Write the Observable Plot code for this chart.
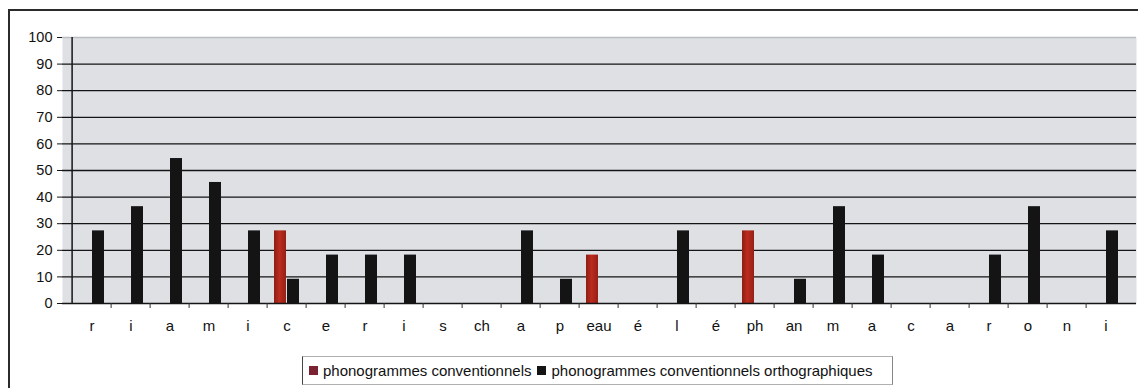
<!DOCTYPE html>
<html>
<head>
<meta charset="utf-8">
<script src="https://cdn.jsdelivr.net/npm/d3@7"></script>
<script src="https://cdn.jsdelivr.net/npm/@observablehq/plot@0.6"></script>
<style>
  html, body { margin: 0; padding: 0; background: #fff; overflow: hidden; }
  body { width: 1138px; height: 388px; position: relative; font-family: "Liberation Sans", Arial, sans-serif; }
  #frame { position: absolute; left: 8px; top: 9px; width: 1200px; height: 400px; border: 2px solid #2b2b2b; box-sizing: border-box; }
  #chart { position: absolute; left: 0; top: 0; }
  #legend {
    position: absolute; left: 302px; top: 356px; height: 29px; width: 591px; box-sizing: border-box;
    border: 1px solid #b0b0b0; border-left: 1.5px solid #444; border-right: 1.5px solid #888;
    display: flex; align-items: center; padding: 0 6px 0 6px;
    font-size: 15px; color: #111; white-space: nowrap; background: #fff;
  }
  .sw { display: inline-block; width: 9px; height: 9px; margin-right: 5px; }
</style>
</head>
<body>
<div id="frame"></div>
<div id="chart"></div>
<div id="legend"></div>
<script>
// Graphemes of the dictated word sequence, in order
const letters = ["r","i","a","m","i","c","e","r","i","s","ch","a","p","eau","é","l","é","ph","an","m","a","c","a","r","o","n","i"];
// Percentages per grapheme, for each series
const conventionnels = [0,0,0,0,0,27.3,0,0,0,0,0,0,0,18.2,0,0,0,27.3,0,0,0,0,0,0,0,0,0];
const orthographiques = [27.3,36.4,54.5,45.5,27.3,9.1,18.2,18.2,18.2,0,0,27.3,9.1,0,0,27.3,0,0,9.1,36.4,18.2,0,0,18.2,36.4,0,27.3];
const yTicks = [0,10,20,30,40,50,60,70,80,90,100];
const seriesNames = ["phonogrammes conventionnels", "phonogrammes conventionnels orthographiques"];
const seriesColors = ["#bb2c1e", "#141414"];

const idx = letters.map((_, i) => i);
const rowsA = idx.map(i => ({i, v: conventionnels[i]}));
const rowsB = idx.map(i => ({i, v: orthographiques[i]}));

const W = 1138, H = 340, ML = 62, MR = 2;
const step = (W - ML - MR) / letters.length;
const half = 13;
const pad = 1 - (2 * half) / step;

const chart = Plot.plot({
  width: W,
  height: H,
  marginLeft: ML,
  marginRight: MR,
  marginTop: 37,
  marginBottom: 37,
  style: { fontFamily: "'Liberation Sans', Arial, sans-serif", fontSize: "14px", color: "#111", background: "transparent" },
  x: { type: "band", domain: idx, paddingInner: pad, paddingOuter: pad / 2, align: 0.5 },
  y: { domain: [0, 100] },
  marks: [
    Plot.frame({ fill: "#dee0e4", stroke: null }),
    Plot.gridY(yTicks.filter(t => t > 0 && t < 100), { stroke: "#151515", strokeOpacity: 1, strokeWidth: 1.3 }),
    Plot.ruleY([100], { stroke: "#b9bcc0", strokeWidth: 1.5 }),
    Plot.barY(rowsA, { x: "i", y: "v", fill: "url(#redShade)", insetRight: half }),
    Plot.barY(rowsB, { x: "i", y: "v", fill: seriesColors[1], insetLeft: half }),
    Plot.ruleY([0], { stroke: "#151515", strokeWidth: 1.5 }),
    Plot.ruleX([0], { x: () => 0, dx: -step / 2, y1: 0, y2: 100, stroke: "#151515", strokeWidth: 1.5 }),
    Plot.axisY(yTicks, { tickSize: 5, tickPadding: 5, label: null, stroke: "#151515", fontSize: 14.5 }),
    Plot.axisX(idx.slice(1), { tickSize: 5, text: null, dx: -step / 2, label: null, stroke: "#333" }),
    Plot.axisX(idx, { tickSize: 0, tickPadding: 17, label: null, tickFormat: i => letters[i], fontSize: 15 })
  ]
});

// Rounded shading across the width of the red bars
const defs = d3.select(chart).insert("defs", ":first-child");
const grad = defs.append("linearGradient").attr("id", "redShade").attr("x1", 0).attr("x2", 1).attr("y1", 0).attr("y2", 0);
grad.append("stop").attr("offset", "0%").attr("stop-color", "#8e1d14");
grad.append("stop").attr("offset", "45%").attr("stop-color", seriesColors[0]);
grad.append("stop").attr("offset", "100%").attr("stop-color", "#961f15");

document.getElementById("chart").appendChild(chart);

const legend = document.getElementById("legend");
seriesNames.forEach((name, k) => {
  const sw = document.createElement("span");
  sw.className = "sw";
  sw.style.background = k === 0 ? "#7a2231" : seriesColors[1];
  if (k > 0) sw.style.marginLeft = "6px";
  legend.appendChild(sw);
  legend.appendChild(document.createTextNode(name));
});
</script>
</body>
</html>
